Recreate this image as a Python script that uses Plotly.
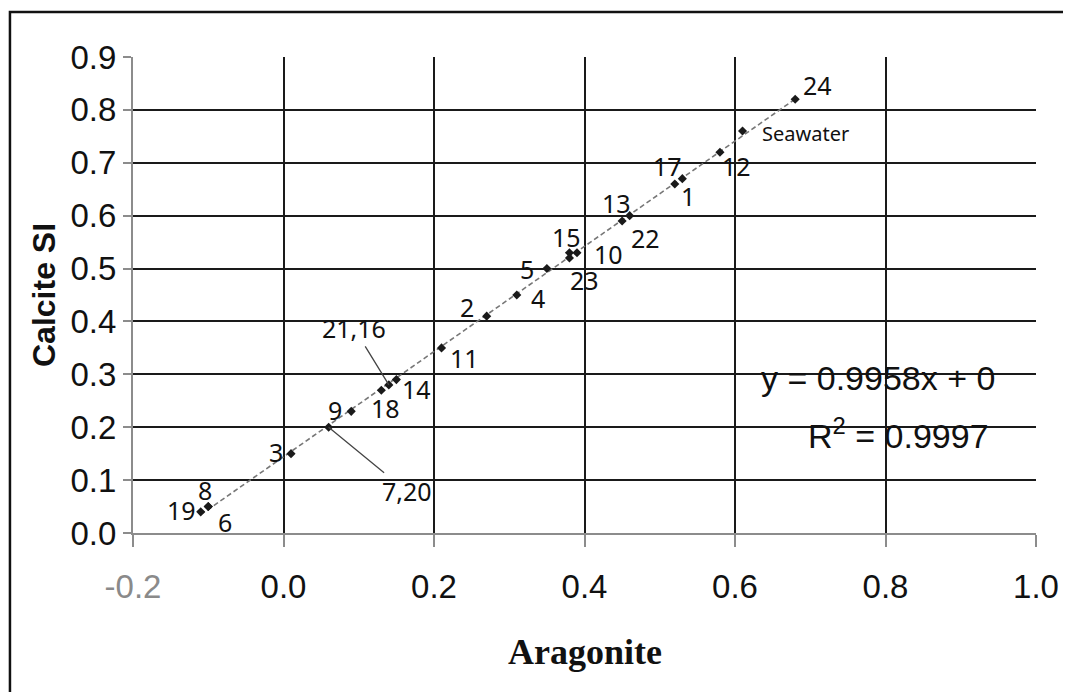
import numpy as np
import plotly.graph_objects as go

# ---------------- data ----------------
sample_ids = ["1", "2", "3", "4", "5", "6", "7,20", "8", "9", "10", "11", "12",
              "13", "14", "15", "17", "18", "19", "21,16", "22", "23", "24", "Seawater"]
aragonite = [0.53, 0.27, 0.01, 0.31, 0.35, -0.10, 0.06, -0.10, 0.09, 0.39, 0.21, 0.58,
             0.45, 0.15, 0.38, 0.52, 0.13, -0.11, 0.14, 0.46, 0.38, 0.68, 0.61]
calcite = [0.67, 0.41, 0.15, 0.45, 0.50, 0.05, 0.20, 0.05, 0.23, 0.53, 0.35, 0.72,
           0.59, 0.29, 0.53, 0.66, 0.27, 0.04, 0.28, 0.60, 0.52, 0.82, 0.76]

x_tick_vals = [-0.2, 0.0, 0.2, 0.4, 0.6, 0.8, 1.0]
x_tick_labels = ["-0.2", "0.0", "0.2", "0.4", "0.6", "0.8", "1.0"]
y_tick_vals = [0.0, 0.1, 0.2, 0.3, 0.4, 0.5, 0.6, 0.7, 0.8, 0.9]
y_tick_labels = ["0.0", "0.1", "0.2", "0.3", "0.4", "0.5", "0.6", "0.7", "0.8", "0.9"]

x_title = "Aragonite"
y_title = "Calcite SI"
equation_text = "y = 0.9958x + 0"
r2_text = "R<sup>2</sup> = 0.9997"

# ---------------- style / layout ----------------
# label offsets in pixels (dx right, dy down) relative to each point
label_offsets = {
    "1": (6, 17), "2": (-20, -9), "3": (-15, -2), "4": (21, 3), "5": (-20, 0),
    "6": (17, 15), "7,20": (78, 64), "8": (-3, -17), "9": (-16, -1), "10": (32, 1),
    "11": (23, 10), "12": (17, 14), "13": (-6, -18), "14": (20, 9), "15": (-3, -16),
    "17": (-7, -18), "18": (4, 18), "19": (-19, -2), "21,16": (-35, -57),
    "22": (16, 22), "23": (15, 22), "24": (22, -14), "Seawater": (63, 2),
}
leader_ids = {"7,20", "21,16"}

# the page body adds an 8px margin, so the figure is 8px smaller and offset
W, H = 1063, 684
L, R, T, B = 125, 28, 49, 159
PW, PH = W - L - R, H - T - B

sans = "Liberation Sans, Arial, sans-serif"
label_font = dict(family="Noto Sans, Open Sans, sans-serif", size=25, color="#111111")

fig = go.Figure()

# trend line (least squares fit through the data)
slope, intercept = np.polyfit(aragonite, calcite, 1)
x_fit = np.array([min(aragonite), max(aragonite)])
y_fit = slope * x_fit + intercept
fig.add_trace(go.Scatter(
    x=x_fit, y=y_fit, mode="lines",
    line=dict(color="#777777", width=1.6, dash="5px,3px"),
    hoverinfo="skip", showlegend=False,
))

fig.add_trace(go.Scatter(
    x=aragonite, y=calcite, mode="markers", text=sample_ids,
    marker=dict(symbol="diamond", size=7, color="#1a1a1a"),
    showlegend=False,
))

annotations = []
for sid, xv, yv in zip(sample_ids, aragonite, calcite):
    dx, dy = label_offsets[sid]
    fnt = dict(label_font)
    if sid == "Seawater":
        fnt["size"] = 20
    if sid in leader_ids:
        annotations.append(dict(
            x=xv, y=yv, xref="x", yref="y", text=sid, showarrow=True,
            arrowhead=0, arrowwidth=1.3, arrowcolor="#444444", standoff=0,
            ax=dx, ay=dy, font=fnt,
        ))
    else:
        annotations.append(dict(
            x=xv, y=yv, xref="x", yref="y", text=sid, showarrow=False,
            xshift=dx, yshift=-dy, xanchor="center", yanchor="middle", font=fnt,
        ))

eq_font = dict(family=sans, size=34, color="#111111")
annotations.append(dict(x=0.79, y=0.293, xref="x", yref="y", text=equation_text,
                        showarrow=False, xanchor="center", yanchor="middle", font=eq_font))
annotations.append(dict(x=0.817, y=0.189, xref="x", yref="y", text=r2_text,
                        showarrow=False, xanchor="center", yanchor="middle", font=eq_font))

# axis titles
annotations.append(dict(x=0.5, y=0, xref="paper", yref="paper", text=f"<b>{x_title}</b>",
                        showarrow=False, xanchor="center", yanchor="middle", yshift=-119,
                        font=dict(family="Liberation Serif, Times New Roman, serif", size=36,
                                  color="#111111")))
annotations.append(dict(x=0, y=0.5, xref="paper", yref="paper", text=f"<b>{y_title}</b>",
                        showarrow=False, xanchor="center", yanchor="middle", xshift=-89,
                        textangle=-90, font=dict(family=sans, size=32, color="#111111")))

x_ticktext = [f"<span style='color:#8a8a8a'>{t}</span>" if v < 0 else t
              for v, t in zip(x_tick_vals, x_tick_labels)]

fig.update_layout(
    width=W, height=H,
    margin=dict(l=L, r=R, t=T, b=B, pad=0),
    paper_bgcolor="white", plot_bgcolor="white",
    annotations=annotations,
    xaxis=dict(
        range=[-0.2, 1.0], tickmode="array", tickvals=x_tick_vals, ticktext=x_ticktext,
        showgrid=True, gridcolor="#1a1a1a", gridwidth=2, zeroline=False,
        showline=True, linecolor="#8c8c8c", linewidth=2,
        ticks="outside", ticklen=12, tickwidth=1.5, tickcolor="#8c8c8c",
        tickfont=dict(family=sans, size=33, color="#111111"),
        ticklabelstandoff=11,
    ),
    yaxis=dict(
        range=[0.0, 0.9], tickmode="array", tickvals=y_tick_vals, ticktext=y_tick_labels,
        showgrid=True, gridcolor="#1a1a1a", gridwidth=2, zeroline=False,
        showline=True, linecolor="#8c8c8c", linewidth=2,
        ticks="outside", ticklen=8, tickwidth=1.5, tickcolor="#8c8c8c",
        tickfont=dict(family=sans, size=33, color="#111111"),
        ticklabelstandoff=0,
    ),
    shapes=[dict(
        type="path", xref="paper", yref="paper",
        path=f"M {(1 - L) / PW},{(T + PH - H - 5) / PH} L {(1 - L) / PW},{(T + PH - 4) / PH} "
             f"L {(W + 5 - L) / PW},{(T + PH - 4) / PH}",
        line=dict(color="#111111", width=2.5),
    )],
)

fig.write_html("out.html")
